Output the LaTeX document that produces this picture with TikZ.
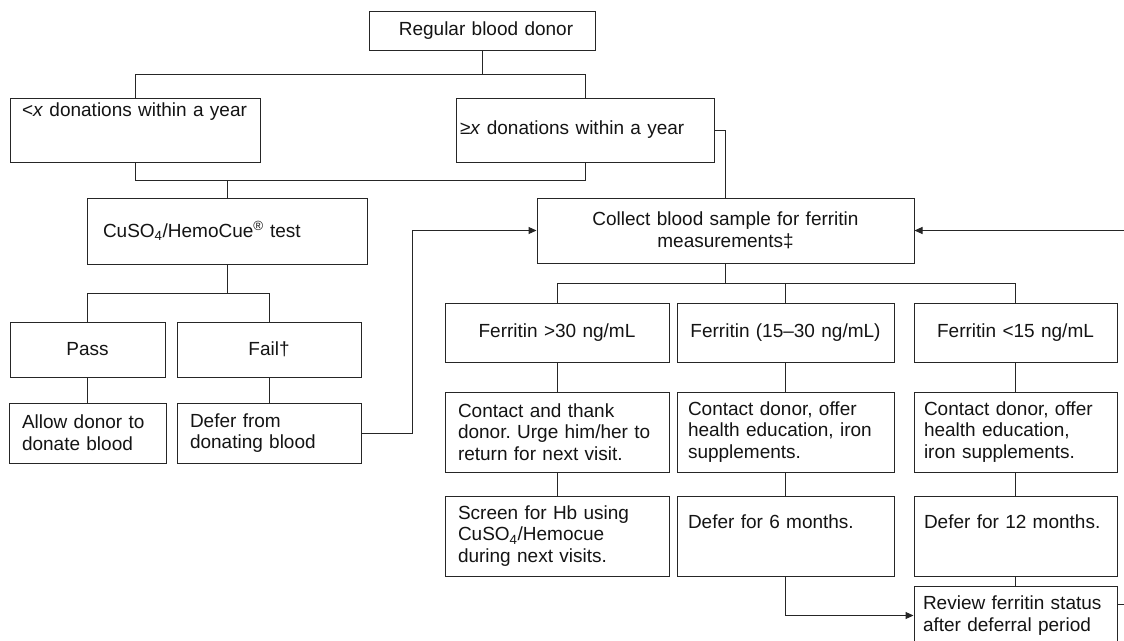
\documentclass[tikz,border=0pt]{standalone}
\usepackage{fontspec}
\setmainfont{Liberation Sans}
\usetikzlibrary{arrows.meta}
\frenchspacing
\begin{document}
\begin{tikzpicture}[x=1pt,y=-1pt,
  bx/.style={draw=black!85, line width=1pt, rectangle, fill=white, inner xsep=0pt, inner ysep=2pt,
    font=\fontsize{19}{21.7}\selectfont\frenchspacing, text=black!92},
  ln/.style={draw=black!85, line width=1pt},
  arr/.style={ln, -{Triangle[length=8pt,width=7pt]}}]
\useasboundingbox (0,0) rectangle (1124,640);
\fill[white] (0,0) rectangle (1124,640);
\clip (0,0) rectangle (1124,640);

% top part
\node[bx, minimum width=226pt, minimum height=39pt, text width=206pt, align=center] (reg) at (482,30.5) {\hspace*{8pt}Regular blood donor};
\node[bx, minimum width=250pt, minimum height=64pt, text width=226pt, align=left] (lt) at (135,130) {<\textit{x} donations within a year\\[19pt]\mbox{}};
\node[bx, minimum width=258pt, minimum height=64pt, text width=250pt, align=left] (ge) at (585,130) {≥\textit{x} donations within a year};

% left branch
\node[bx, minimum width=280pt, minimum height=66pt, text width=248pt, align=left] (cuso) at (227,231) {CuSO\textsubscript{4}/HemoCue\textsuperscript{®} test};
\node[bx, minimum width=155pt, minimum height=55pt, text width=140pt, align=center] (pass) at (87.5,349.5) {Pass};
\node[bx, minimum width=184pt, minimum height=55pt, text width=170pt, align=center] (fail) at (269,349.5) {Fail†};
\node[bx, minimum width=157pt, minimum height=60pt, text width=131pt, align=left] (allow) at (87.5,433) {Allow donor to\\donate blood};
\node[bx, minimum width=184pt, minimum height=60pt, text width=158pt, align=left] (defer) at (269,433) {Defer from\\donating blood};

% right branch
\node[bx, minimum width=377pt, minimum height=65pt, text width=357pt, align=center] (coll) at (725.5,230.5) {Collect blood sample for ferritin\\measurements‡};
\node[bx, minimum width=224pt, minimum height=59pt, text width=210pt, align=center] (f1) at (557,333) {Ferritin >30 ng/mL};
\node[bx, minimum width=217pt, minimum height=59pt, text width=205pt, align=center] (f2) at (785.5,333) {Ferritin (15–30 ng/mL)};
\node[bx, minimum width=203pt, minimum height=59pt, text width=190pt, align=center] (f3) at (1015.5,333) {Ferritin <15 ng/mL};

\node[bx, minimum width=224pt, minimum height=80pt, text width=198pt, align=left] (r2a) at (557,432) {Contact and thank\\donor. Urge him/her to\\return for next visit.};
\node[bx, minimum width=217pt, minimum height=80pt, text width=195pt, align=left] (r2b) at (785.5,432) {Contact donor, offer\\health education, iron\\supplements.};
\node[bx, minimum width=203pt, minimum height=80pt, text width=183pt, align=left] (r2c) at (1015.5,432) {Contact donor, offer\\health education,\\iron supplements.};

\node[bx, minimum width=224pt, minimum height=80pt, text width=198pt, align=left] (r3a) at (557,536) {Screen for Hb using\\CuSO\textsubscript{4}/Hemocue\\during next visits.};
\node[bx, minimum width=217pt, minimum height=80pt, text width=195pt, align=left] (r3b) at (785.5,536) {Defer for 6 months.\\\strut};
\node[bx, minimum width=203pt, minimum height=80pt, text width=183pt, align=left] (r3c) at (1015.5,536) {Defer for 12 months.\\\strut};

\node[bx, minimum width=203pt, minimum height=59pt, text width=185pt, align=left] (rev) at (1015.5,615.5) {Review ferritin status\\after deferral period};

% connectors
\draw[ln] (reg.south) -- ++(0,24) -| (lt.north);
\draw[ln] (reg.south) -- ++(0,24) -| (ge.north);
\draw[ln] (lt.south) -- ++(0,18) -| (ge.south);
\draw[ln] (cuso.north) -- ++(0,-18);
\draw[ln] (cuso.south) -- ++(0,29) -| (pass.north);
\draw[ln] (cuso.south) -- ++(0,29) -| (fail.north);
\draw[ln] (pass.south) -- (allow.north);
\draw[ln] (fail.south) -- (defer.north);
\draw[arr] (defer.east) -- ++(51,0) |- (coll.west);
\draw[ln] (ge.east) -| (coll.north);

\draw[ln] (coll.south) -- ++(0,20) -| (f1.north);
\draw[ln] (coll.south) -- ++(0,20) -| (f2.north);
\draw[ln] (coll.south) -- ++(0,20) -| (f3.north);
\draw[ln] (f1.south) -- (r2a.north);
\draw[ln] (f2.south) -- (r2b.north);
\draw[ln] (f3.south) -- (r2c.north);
\draw[ln] (r2a.south) -- (r3a.north);
\draw[ln] (r2b.south) -- (r3b.north);
\draw[ln] (r2c.south) -- (r3c.north);
\draw[ln] (r3c.south) -- (rev.north);
\draw[arr] (r3b.south) |- (rev.west);

\coordinate (ry) at (0,604);
\coordinate (offA) at (1140,604);
\draw[arr] (rev.east |- ry) -- (offA) |- (coll.east);
\end{tikzpicture}
\end{document}
